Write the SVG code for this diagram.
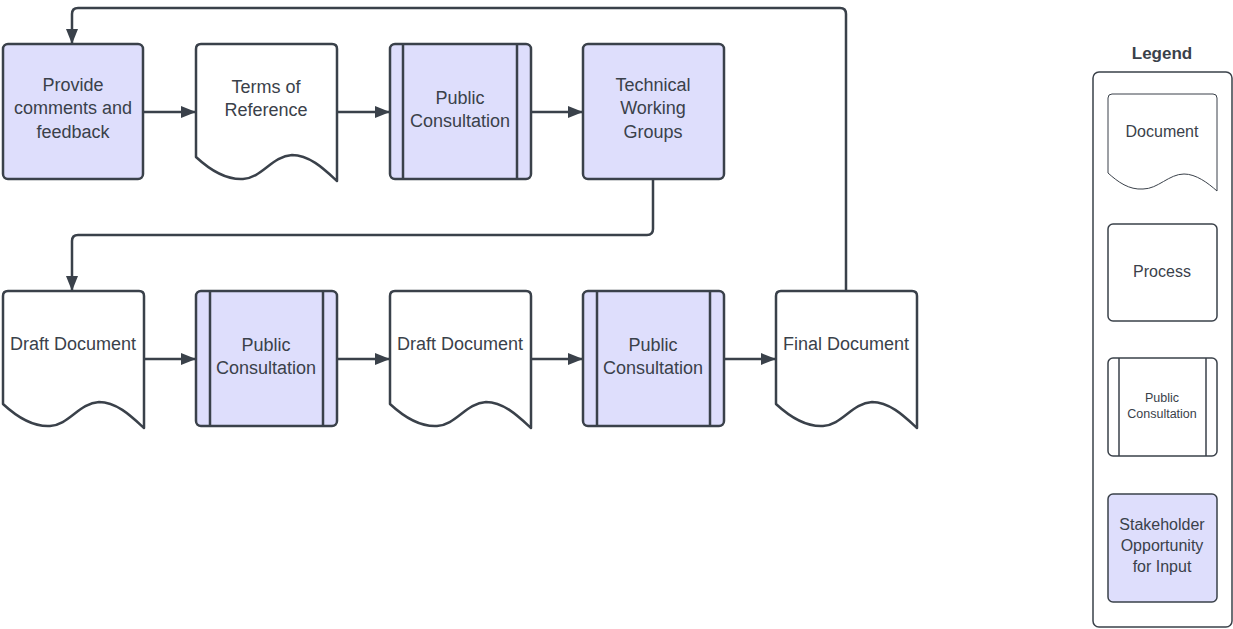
<svg xmlns="http://www.w3.org/2000/svg" width="1233" height="629" viewBox="0 0 1233 629">
  <defs>
    <marker id="arrow" markerUnits="userSpaceOnUse" markerWidth="16" markerHeight="12" refX="15" refY="6" orient="auto">
      <path d="M0,0 L15,6 L0,12 Z" fill="#3a414a"/>
    </marker>
    <style>
      .box { fill: #dedefc; stroke: #3a414a; stroke-width: 2.5; }
      .doc { fill: #ffffff; stroke: #3a414a; stroke-width: 2.5; stroke-linejoin: round; }
      .bar { stroke: #3a414a; stroke-width: 2.5; }
      .lbox { stroke: #3a414a; stroke-width: 1.5; }
      .ldoc { fill: #ffffff; stroke: #3a414a; stroke-width: 1; }
      .conn { fill: none; stroke: #3a414a; stroke-width: 2.5; marker-end: url(#arrow); }
      text { font-family: "Liberation Sans", Arial, sans-serif; fill: #3a414a; text-anchor: middle; }
      .t18 { font-size: 18px; }
      .t16 { font-size: 16px; }
      .t12 { font-size: 12.5px; }
      .title { font-size: 17px; font-weight: bold; }
    </style>
  </defs>

  <!-- connectors -->
  <g id="connectors">
    <path class="conn" d="M143,112 H196"/>
    <path class="conn" d="M337,112 H390"/>
    <path class="conn" d="M531,112 H583"/>
    <path class="conn" d="M653,179 V229 Q653,235 647,235 H78 Q72,235 72,241 V291"/>
    <path class="conn" d="M144,359 H196"/>
    <path class="conn" d="M337,359 H390"/>
    <path class="conn" d="M531,359 H583"/>
    <path class="conn" d="M724,359 H776"/>
    <path class="conn" d="M846,291 V14 Q846,8 840,8 H78 Q72,8 72,14 V44"/>
  </g>

  <!-- top row -->
  <g id="provide-comments">
    <rect class="box" x="3" y="44" width="140" height="135" rx="5"/>
    <text class="t18" x="73" y="91">Provide</text>
    <text class="t18" x="73" y="114">comments and</text>
    <text class="t18" x="73" y="138">feedback</text>
  </g>

  <g id="terms-of-reference">
    <path class="doc" transform="translate(196,44)" d="M0,113 V5 Q0,0 5,0 H136 Q141,0 141,5 V137 C129,126 114,111 96,111 C76,112 66,134 47,135 C29,136 14,126 0,113 Z"/>
    <text class="t18" x="266" y="93">Terms of</text>
    <text class="t18" x="266" y="116">Reference</text>
  </g>

  <g id="public-consultation-1">
    <rect class="box" x="390" y="44" width="141" height="135" rx="5"/>
    <line class="bar" x1="403" y1="44" x2="403" y2="179"/>
    <line class="bar" x1="517" y1="44" x2="517" y2="179"/>
    <text class="t18" x="460" y="104">Public</text>
    <text class="t18" x="460" y="127">Consultation</text>
  </g>

  <g id="technical-working-groups">
    <rect class="box" x="583" y="44" width="141" height="135" rx="5"/>
    <text class="t18" x="653" y="91">Technical</text>
    <text class="t18" x="653" y="114">Working</text>
    <text class="t18" x="653" y="138">Groups</text>
  </g>

  <!-- bottom row -->
  <g id="draft-document-1">
    <path class="doc" transform="translate(3,291)" d="M0,113 V5 Q0,0 5,0 H136 Q141,0 141,5 V137 C129,126 114,111 96,111 C76,112 66,134 47,135 C29,136 14,126 0,113 Z"/>
    <text class="t18" x="73" y="350">Draft Document</text>
  </g>

  <g id="public-consultation-2">
    <rect class="box" x="196" y="291" width="141" height="135" rx="5"/>
    <line class="bar" x1="210" y1="291" x2="210" y2="426"/>
    <line class="bar" x1="323" y1="291" x2="323" y2="426"/>
    <text class="t18" x="266" y="351">Public</text>
    <text class="t18" x="266" y="374">Consultation</text>
  </g>

  <g id="draft-document-2">
    <path class="doc" transform="translate(390,291)" d="M0,113 V5 Q0,0 5,0 H136 Q141,0 141,5 V137 C129,126 114,111 96,111 C76,112 66,134 47,135 C29,136 14,126 0,113 Z"/>
    <text class="t18" x="460" y="350">Draft Document</text>
  </g>

  <g id="public-consultation-3">
    <rect class="box" x="583" y="291" width="141" height="135" rx="5"/>
    <line class="bar" x1="597" y1="291" x2="597" y2="426"/>
    <line class="bar" x1="710" y1="291" x2="710" y2="426"/>
    <text class="t18" x="653" y="351">Public</text>
    <text class="t18" x="653" y="374">Consultation</text>
  </g>

  <g id="final-document">
    <path class="doc" transform="translate(776,291)" d="M0,113 V5 Q0,0 5,0 H136 Q141,0 141,5 V137 C129,126 114,111 96,111 C76,112 66,134 47,135 C29,136 14,126 0,113 Z"/>
    <text class="t18" x="846" y="350">Final Document</text>
  </g>

  <!-- legend -->
  <g id="legend">
    <text class="title" x="1162" y="59">Legend</text>
    <rect class="lbox" x="1093" y="72" width="139" height="555" rx="6" fill="#ffffff"/>
    <g id="legend-document">
      <path class="ldoc" transform="translate(1108,94)" d="M0,79 V4 Q0,0 4,0 H105 Q109,0 109,4 V97 C100,89 88,80 76,80 C61,80 50,95 35,95 C21,96 10,88 0,79 Z"/>
      <text class="t16" x="1162" y="137">Document</text>
    </g>
    <g id="legend-process">
      <rect class="lbox" x="1108" y="224" width="109" height="97" rx="5" fill="#ffffff"/>
      <text class="t16" x="1162" y="277">Process</text>
    </g>
    <g id="legend-public-consultation">
      <rect class="lbox" x="1108" y="358" width="109" height="98" rx="5" fill="#ffffff"/>
      <line class="lbox" x1="1119" y1="358" x2="1119" y2="456"/>
      <line class="lbox" x1="1206" y1="358" x2="1206" y2="456"/>
      <text class="t12" x="1162" y="402">Public</text>
      <text class="t12" x="1162" y="418">Consultation</text>
    </g>
    <g id="legend-stakeholder">
      <rect class="lbox" x="1108" y="494" width="109" height="108" rx="5" fill="#dedefc"/>
      <text class="t16" x="1162" y="530">Stakeholder</text>
      <text class="t16" x="1162" y="551">Opportunity</text>
      <text class="t16" x="1162" y="572">for Input</text>
    </g>
  </g>
</svg>
